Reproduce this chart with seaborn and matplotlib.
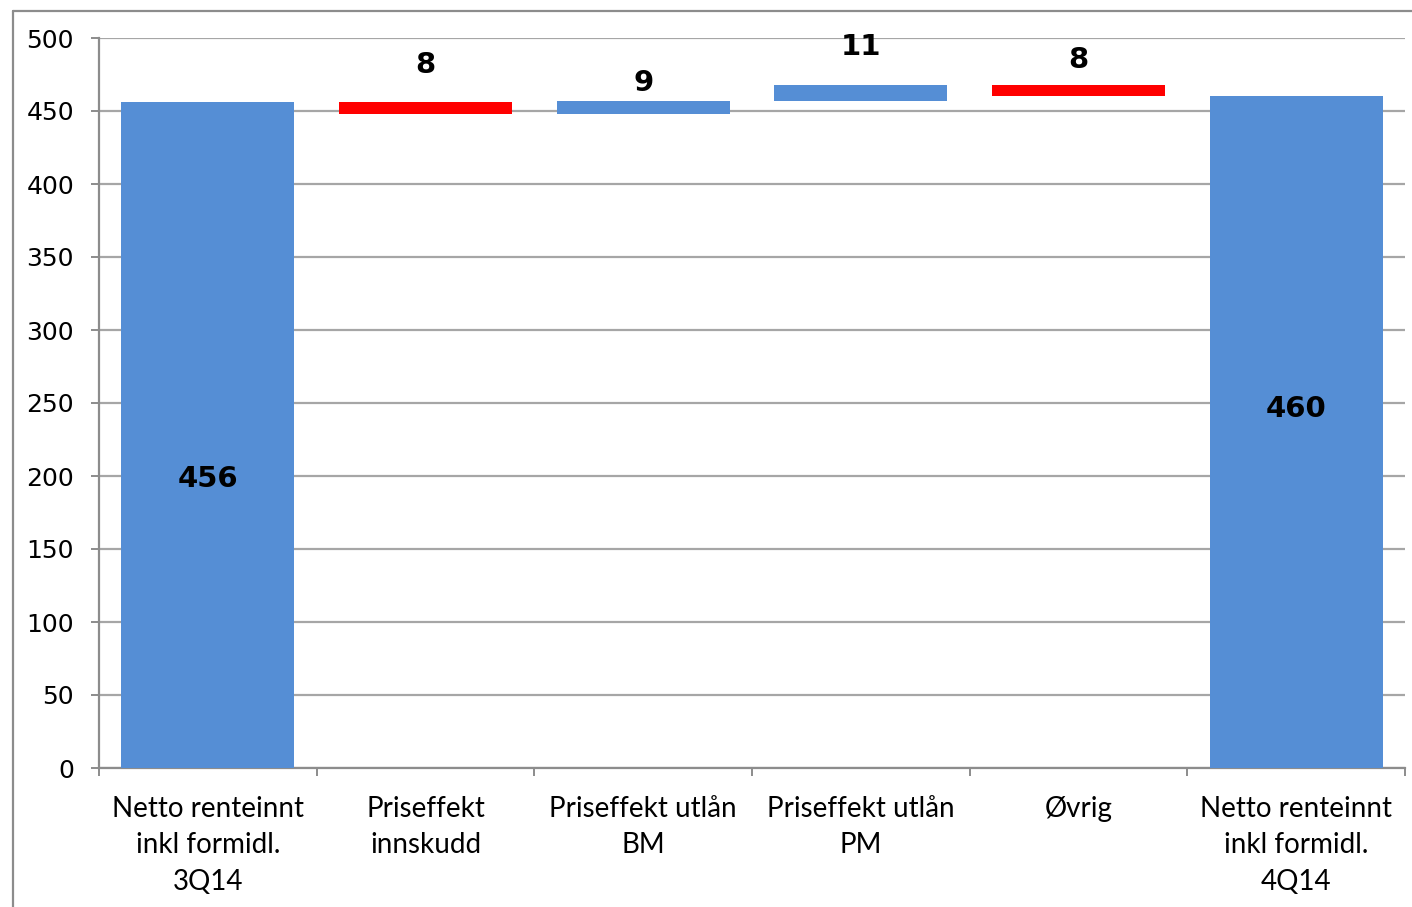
import numpy as np
import pandas as pd
import matplotlib
matplotlib.use('Agg')
import matplotlib.pyplot as plt
from matplotlib.lines import Line2D
import seaborn as sns

# waterfall data
categories = ['Netto renteinnt\ninkl formidl.\n3Q14', 'Priseffekt\ninnskudd',
              'Priseffekt utlån\nBM', 'Priseffekt utlån\nPM', 'Øvrig',
              'Netto renteinnt\ninkl formidl.\n4Q14']
changes = [456, -8, 9, 11, -8, 460]
kinds = ['total', 'delta', 'delta', 'delta', 'delta', 'total']
labels = ['456', '8', '9', '11', '8', '460']

# build bottoms / heights from the changes
bottoms, heights = [], []
running = 0
for c, k in zip(changes, kinds):
    if k == 'total':
        bottoms.append(0)
        heights.append(c)
        running = c
    else:
        new = running + c
        bottoms.append(min(running, new))
        heights.append(abs(c))
        running = new

df = pd.DataFrame({'cat': categories, 'height': heights, 'bottom': bottoms})

BLUE = '#558ED5'
RED = '#FF0000'
GRID = '#A6A6A6'

sns.set_style('white')
plt.rcParams['font.family'] = ['DejaVu Sans']
plt.rcParams['text.color'] = 'black'
plt.rcParams['xtick.color'] = 'black'
plt.rcParams['ytick.color'] = 'black'

fig = plt.figure(figsize=(14.12, 9.07), dpi=100)
ax = fig.add_axes([99 / 1412, 1 - 768 / 907, (1405 - 99) / 1412, (768 - 38) / 907])

sns.barplot(data=df, x='cat', y='height', order=categories, color=BLUE,
            width=0.795, bottom=df['bottom'].to_numpy(), saturation=1,
            linewidth=0, ax=ax)

for patch, c, k in zip(ax.patches, changes, kinds):
    patch.set_facecolor(RED if (k == 'delta' and c < 0) else BLUE)
    patch.set_zorder(3)

# data labels
label_pos = [198, None, None, None, None, 246]
label_offsets = [0, 27, 13, 27, 18]
for i, (b, h, lab) in enumerate(zip(bottoms, heights, labels)):
    if kinds[i] == 'total':
        ax.text(i, label_pos[i], lab, ha='center', va='center', color='black',
                fontsize=21, fontweight='bold', zorder=4)
    else:
        ax.annotate(lab, (i, b + h), xytext=(0, label_offsets[i]),
                    textcoords='offset points', ha='center', va='center',
                    color='black', fontsize=21, fontweight='bold', zorder=4)

ax.set_ylim(0, 500)
ax.set_xlim(-0.5, len(categories) - 0.5)
ax.set_yticks(np.arange(0, 501, 50))
ax.yaxis.grid(True, color=GRID, linewidth=1.6)
ax.set_axisbelow(True)
ax.set_xlabel('')
ax.set_ylabel('')

for s in ['top', 'right']:
    ax.spines[s].set_visible(False)
for s in ['left', 'bottom']:
    ax.spines[s].set_color('#8C8C8C')
    ax.spines[s].set_linewidth(1.6)

ax.tick_params(axis='y', which='major', length=6, width=1.4, color='#8C8C8C',
               labelcolor='black', labelsize=18, pad=12, left=True)
ax.set_xticks(np.arange(-0.5, len(categories), 1.0), minor=True)
ax.tick_params(axis='x', which='minor', length=6, width=1.4, color='#8C8C8C',
               bottom=True)
ax.tick_params(axis='x', which='major', length=0, pad=20, labelcolor='black')
ax.set_xticks(range(len(categories)))
ax.set_xticklabels(categories, fontsize=20, family=['Lato', 'DejaVu Sans'],
                   linespacing=1.5)

# outer chart-area frame
fig.add_artist(Line2D([12.5 / 1412, 12.5 / 1412], [0, 1 - 11 / 907],
                      transform=fig.transFigure, color='#8C8C8C', lw=1.6))
fig.add_artist(Line2D([12.5 / 1412, 1], [1 - 11 / 907, 1 - 11 / 907],
                      transform=fig.transFigure, color='#8C8C8C', lw=1.6))

fig.savefig('out.png', dpi=100)
